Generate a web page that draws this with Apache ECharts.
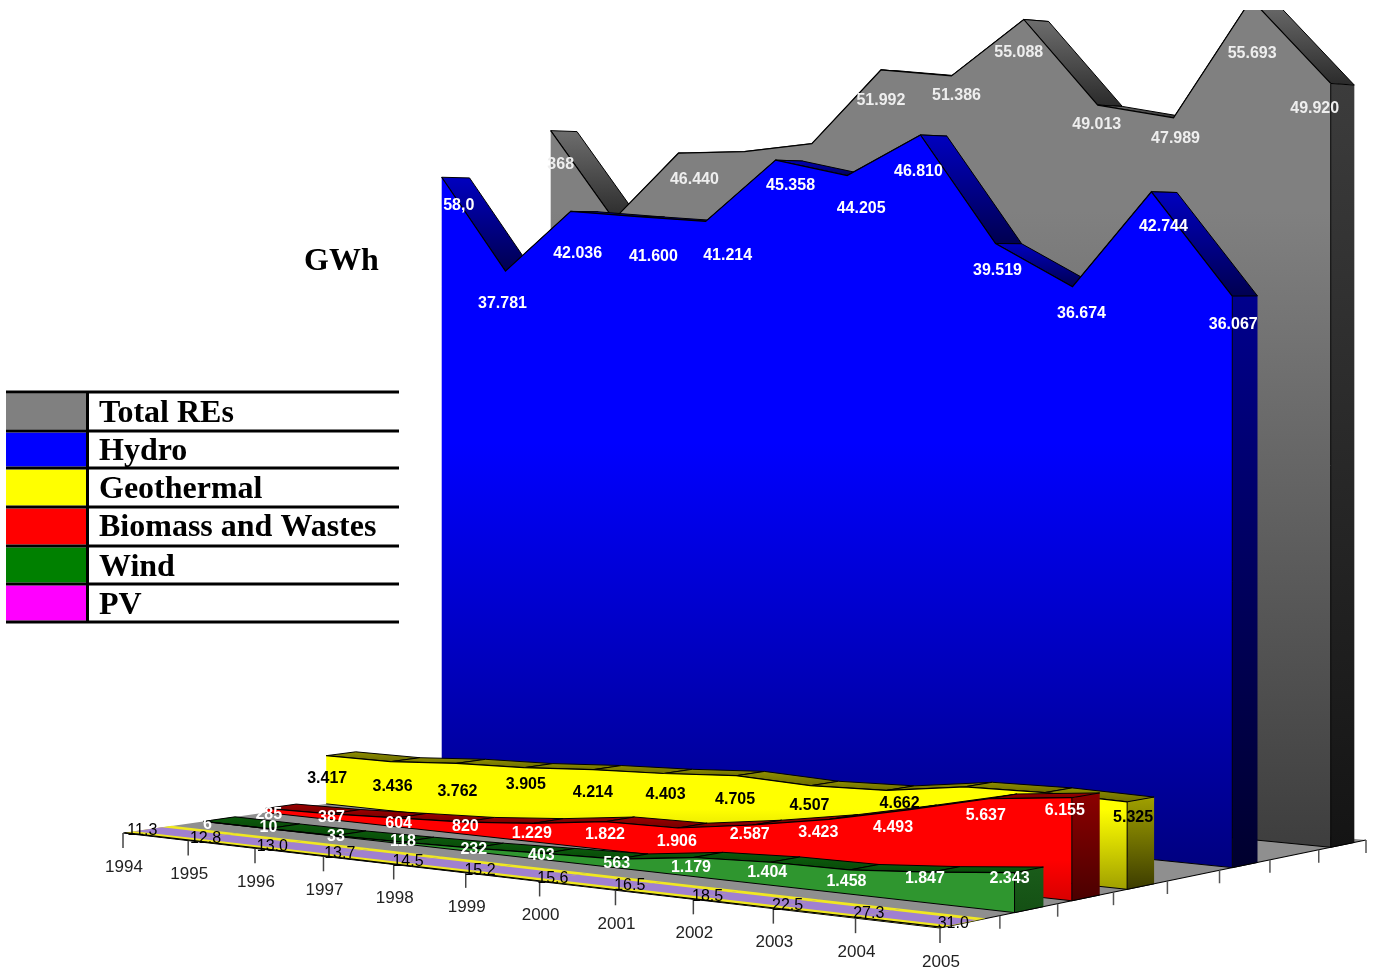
<!DOCTYPE html>
<html>
<head>
<meta charset="utf-8">
<style>html,body{margin:0;padding:0;background:#fff}#chart{width:1375px;height:974px}</style>
<script src="https://cdn.jsdelivr.net/npm/echarts@6/dist/echarts.min.js"></script>
</head>
<body>
<div id="chart"></div>
<script>
// Renewable electricity output by source, GWh
const years = ['1994','1995','1996','1997','1998','1999','2000','2001','2002','2003','2004','2005'];
const totalRes = [48368,41618,46440,46448,46895,51992,51386,55088,49013,47989,55693,49920];
const hydro = [44658,37781,42036,41600,41214,45358,44205,46810,39519,36674,42744,36067];
const geothermal = [3417,3436,3762,3905,4214,4403,4705,4507,4662,5341,5437,5325];
const biomass = [285,387,604,820,1229,1822,1906,2587,3423,4493,5637,6155];
const wind = [6,10,33,118,232,403,563,1179,1404,1458,1847,2343];
const pv = [11.3,12.8,13.0,13.7,14.5,15.2,15.6,16.5,18.5,22.5,27.3,31.0];
const legendNames = ['Total REs','Hydro','Geothermal','Biomass and Wastes','Wind','PV'];
const legendColors = ['#808080','#0000ff','#ffff00','#ff0000','#008000','#ff00ff'];

// Label offsets from each series' top edge, one [dx,dy] per year
const totalNudge = [[10,4],[0,10],[16,-4],[0,39],[0,5],[0,1],[5,-10],[-5,3],[-1,-10],[2,-9],[1,24],[-16,-5]];
const hydroNudge = [[17,-4],[-3,0],[7,10],[16,8],[22,2],[15,-7],[14,1],[-2,5],[2,-5],[9,-5],[12,3],[1,-3]];
const geoNudge = [[1,-2],[2,0],[1,3],[2,-8],[0,-2],[2,-4],[-1,-1],[-1,-5],[13,-12],[0,0],[0,0],[6,-9]];
const biomassNudge = [[3,-6],[1,-8],[2,-6],[1,-7],[-2,-2],[0,1],[-1,2],[-3,-2],[-11,1],[-15,6],[-3,5],[-7,1]];
const windNudge = [[4,-7],[0,-11],[1,-9],[0,-10],[1,-9],[-3,-8],[-1,-5],[-2,0],[-3,0],[-3,2],[-6,-4],[-5,-4]];
const pvNudge = [[18,-4],[16,-4],[16,-3],[15,-4],[13,-4],[13,-4],[12,-4],[13,-6],[13,-4],[13,-4],[12,-6],[12,-6]];

// Floor plane of the scene: category axis runs along u, depth slots along v
const floorCorners = {front:[123,833], right:[940,928], back:[1366,840], left:[590,766]};
const depthSlots = 8;
const slabDepth = [0.25,0.75];
const heightFalloff = {gain:0.9248, u:-0.1501, v:0.1337};

const fc = floorCorners;
const dx1 = fc.right[0]-fc.back[0], dx2 = fc.left[0]-fc.back[0], sx = fc.front[0]-fc.right[0]+fc.back[0]-fc.left[0];
const dy1 = fc.right[1]-fc.back[1], dy2 = fc.left[1]-fc.back[1], sy = fc.front[1]-fc.right[1]+fc.back[1]-fc.left[1];
const den = dx1*dy2-dx2*dy1;
const pg = (sx*dy2-dx2*sy)/den, ph = (dx1*sy-sx*dy1)/den;
const pa = fc.right[0]-fc.front[0]+pg*fc.right[0], pb = fc.left[0]-fc.front[0]+ph*fc.left[0];
const pd = fc.right[1]-fc.front[1]+pg*fc.right[1], pe = fc.left[1]-fc.front[1]+ph*fc.left[1];

function floorPoint(u, v){
  const w = pg*u+ph*v+1;
  return [(pa*u+pb*v+fc.front[0])/w, (pd*u+pe*v+fc.front[1])/w];
}
// Maps a category index, a depth slot and a value to the screen through the chart's own axes
function place(api, i, z, value){
  const base = api.coord([i,0]);
  const u = base[0]/api.getWidth(), v = z/depthSlots;
  const p = floorPoint(u,v);
  const rise = (base[1]-api.coord([i,value])[1])*heightFalloff.gain/(1+heightFalloff.u*u+heightFalloff.v*v);
  return [p[0], p[1]-rise];
}
function vgrad(stops){
  return {type:'linear',x:0,y:0,x2:0,y2:1,colorStops:stops.map(s=>({offset:s[0],color:s[1]}))};
}
function dotted(v){
  return v<1000 ? String(v) : String(v).replace(/(\d)(\d{3})$/,'$1.$2');
}
const sources = [
  {name:'Total REs', values:totalRes, slot:7, dy:30, fill:'#eeeeee', weight:'bold', clip:true,
   front:[[0,'#808080'],[0.25,'#808080'],[1,'#3e3e3e']], strip:['#6e6e6e','#2a2a2a'], cap:['#3c3c3c','#141414'],
   shown:{0:'368'}, nudge:totalNudge},
  {name:'Hydro', values:hydro, slot:5, dy:32, fill:'#ffffff', weight:'bold',
   front:[[0,'#0000ff'],[0.42,'#0000ff'],[1,'#000080']], strip:['#0000c0','#000050'], cap:['#00008c','#00002e'],
   shown:{0:'58,0'}, nudge:hydroNudge},
  {name:'Geothermal', values:geothermal, slot:3, dy:25, fill:'#000000', weight:'bold',
   front:[[0,'#ffff00'],[0.4,'#ffff00'],[1,'#a0a000']], strip:['#909000','#6a6a00'], cap:['#a0a000','#3c3c00'],
   shown:{}, nudge:geoNudge},
  {name:'Biomass and Wastes', values:biomass, slot:2, dy:12, fill:'#ffffff', weight:'bold',
   front:[[0,'#ff0000'],[0.6,'#ff0000'],[1,'#d80000']], strip:['#a00000','#700000'], cap:['#8c0000','#4a0000'],
   shown:{}, nudge:biomassNudge},
  {name:'Wind', values:wind, slot:1, dy:10, fill:'#ffffff', weight:'bold',
   front:[[0,'#2f962f'],[1,'#2f962f']], strip:['#0c5c0c','#084808'], cap:['#1a5c1a','#145014'],
   shown:{}, nudge:windNudge},
  {name:'PV', values:pv, slot:0, dy:2, fill:'#000000', weight:'normal', decimals:1, depth:[0.02,0.75],
   front:[[0,'#f0e820'],[1,'#f0e820']], strip:['#f0e820','#f0e820'], cap:['#a0a000','#a0a000'], band:'#a080d0',
   shown:{}, nudge:pvNudge}
];

function poly(points, fill, z2, stroke){
  return {type:'polygon', z2:z2, shape:{points:points}, style:{fill:fill, stroke:stroke||null, lineWidth:1}};
}
function line(points, z2, width){
  return {type:'polyline', z2:z2, shape:{points:points}, style:{fill:null, stroke:'#000', lineWidth:width||1}};
}

function slabRenderer(src){
  return function(params, api){
    const i = params.dataIndexInside, n = src.values.length;
    const kids = [];
    const span = src.depth||slabDepth;
    const zf = src.slot+span[0], zb = src.slot+span[1];
    const fp = place(api,i,zf,src.values[i]);
    if(i===0){
      const last = n-1;
      kids.push(poly([place(api,last,zf,0),place(api,last,zb,0),place(api,last,zb,src.values[last]),place(api,last,zf,src.values[last])],
        vgrad([[0,src.cap[0]],[1,src.cap[1]]]),1));
      for(let k=0;k<last;k++){
        const a=src.values[k], b=src.values[k+1];
        kids.push(poly([place(api,k,zf,a),place(api,k+1,zf,b),place(api,k+1,zb,b),place(api,k,zb,a)],
          vgrad([[0,src.strip[0]],[1,src.strip[1]]]),2, src.band?null:'#000'));
        if(src.band){
          const m=0.15;
          kids.push(poly([place(api,k,zf+m,a),place(api,k+1,zf+m,b),place(api,k+1,zb-m,b),place(api,k,zb-m,a)],src.band,3));
        }
      }
      const frontTop=[];
      for(let k=0;k<n;k++){ frontTop.push(place(api,k,zf,src.values[k])); }
      const outline = frontTop.slice();
      outline.push(place(api,last,zf,0), place(api,0,zf,0));
      kids.push(poly(outline, vgrad(src.front),4));
      kids.push(line(frontTop,5,1.2));
      if(!src.band){
        kids.push(line([place(api,0,zf,0),place(api,last,zf,0),place(api,last,zb,0)],5,1));
        kids.push(line([frontTop[last],place(api,last,zf,0)],5,1));
      }
    }
    const nudge = src.nudge[i];
    const text = src.shown[i]!==undefined ? src.shown[i] : (src.decimals ? src.values[i].toFixed(src.decimals) : dotted(src.values[i]));
    kids.push({type:'text', z2:9, style:{text:text, x:fp[0]+nudge[0], y:fp[1]+src.dy+nudge[1],
      fill:src.fill, font:src.weight+' 16px "Liberation Sans"', align:'center', verticalAlign:'middle'}});
    return {type:'group', children:kids};
  };
}

function floorRenderer(params, api){
  const i = params.dataIndexInside;
  const kids = [];
  const base = floorPoint(api.coord([i,0])[0]/api.getWidth(), 0);
  if(i===0){
    kids.push(poly([floorPoint(0,0),floorPoint(1,0),floorPoint(1,1),floorPoint(0,1)],'#8f8f8f',1));
    kids.push(line([floorPoint(0,0),floorPoint(1,0),floorPoint(1,1)],2,1.2));
    for(let z=1;z<=depthSlots;z++){
      const p=floorPoint(1,z/depthSlots);
      kids.push({type:'line',z2:2,shape:{x1:p[0],y1:p[1],x2:p[0],y2:p[1]+13},style:{stroke:'#555',lineWidth:1.5}});
    }
  }
  kids.push({type:'line',z2:2,shape:{x1:base[0],y1:base[1],x2:base[0],y2:base[1]+15},style:{stroke:'#444',lineWidth:1.5}});
  kids.push({type:'text',z2:3,style:{text:years[i],x:base[0]+1,y:base[1]+34,fill:'#222',font:'17px "Liberation Sans"',align:'center',verticalAlign:'middle'}});
  return {type:'group',children:kids};
}

const series = [{type:'custom', name:'Floor', z:1, clip:false, animation:false, silent:true,
  renderItem:floorRenderer, data:years.map((y,i)=>[i,0])}];
sources.forEach((src,idx)=>series.push({type:'custom', name:src.name, z:2+idx, clip:!!src.clip, animation:false, silent:true,
  renderItem:slabRenderer(src), data:src.values.map((v,i)=>[i,v])}));

// Colour key drawn as a ruled table, plus the unit caption
const rowLines = [392,431,468,507,546,584,622];
const rowText = [414,452,490,528,568,606];
const legendGraphic = [];
rowLines.forEach(y=>legendGraphic.push({type:'rect',shape:{x:6,y:y-1.5,width:393,height:3},style:{fill:'#000'},z:20}));
legendNames.forEach((name,i)=>{
  legendGraphic.push({type:'rect',shape:{x:6,y:rowLines[i]+1.5,width:80,height:rowLines[i+1]-rowLines[i]-3},style:{fill:legendColors[i]},z:19});
  legendGraphic.push({type:'text',x:99,y:rowText[i],style:{text:name,fill:'#000',font:'bold 32px "Liberation Serif"',align:'left',verticalAlign:'middle'},z:20});
});
legendGraphic.push({type:'rect',shape:{x:86,y:392,width:3,height:230},style:{fill:'#000'},z:20});
legendGraphic.push({type:'text',x:304,y:262,style:{text:'GWh',fill:'#000',font:'bold 32px "Liberation Serif"',align:'left',verticalAlign:'middle'},z:20});

const chart = echarts.init(document.getElementById('chart'));
chart.setOption({
  animation:false,
  backgroundColor:'#ffffff',
  grid:{left:0,right:0,top:10,bottom:0},
  xAxis:{type:'category',data:years,boundaryGap:false,show:false},
  yAxis:{type:'value',min:0,max:60000,show:false},
  graphic:legendGraphic,
  series:series
});
</script>
</body>
</html>
